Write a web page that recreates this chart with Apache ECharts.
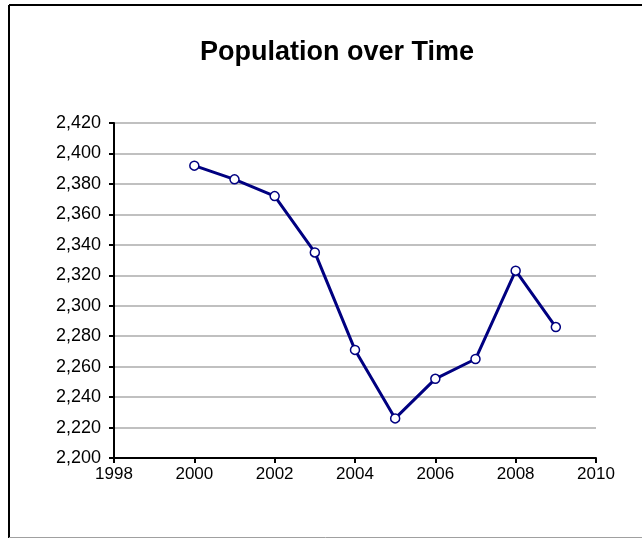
<!DOCTYPE html>
<html>
<head>
<meta charset="utf-8">
<script src="https://cdn.jsdelivr.net/npm/echarts@6/dist/echarts.min.js"></script>
<style>
html,body{margin:0;padding:0;background:#fff;}
#chart{width:642px;height:539px;}
</style>
</head>
<body>
<div id="chart"></div>
<script>
const years = [2000, 2001, 2002, 2003, 2004, 2005, 2006, 2007, 2008, 2009];
const population = [2392, 2383, 2372, 2335, 2271, 2226, 2252, 2265, 2323, 2286];
const titleText = 'Population over Time';

const chart = echarts.init(document.getElementById('chart'), null, {renderer: 'canvas'});
const fontFam = '"Liberation Sans", Arial, sans-serif';
chart.setOption({
  animation: false,
  backgroundColor: '#ffffff',
  title: {
    text: titleText,
    left: 332, top: 34, textAlign: 'center',
    textStyle: {fontFamily: fontFam, fontSize: 27, fontWeight: 'bold', color: '#000'}
  },
  grid: {left: 114, right: 46, top: 123, bottom: 81},
  xAxis: {
    type: 'value', min: 1998, max: 2010, interval: 2,
    axisLine: {show: true, lineStyle: {color: '#000', width: 2}},
    axisTick: {show: true, length: 5, lineStyle: {color: '#000', width: 2}},
    axisLabel: {margin: 8, fontFamily: fontFam, fontSize: 17, color: '#000', formatter: v => String(v)},
    splitLine: {show: false}
  },
  yAxis: {
    type: 'value', min: 2200, max: 2420, interval: 20,
    axisLine: {show: true, lineStyle: {color: '#000', width: 2}},
    axisTick: {show: true, length: 5, lineStyle: {color: '#000', width: 2}},
    axisLabel: {margin: 13, fontFamily: fontFam, fontSize: 18, color: '#000',
      formatter: v => v.toLocaleString('en-US')},
    splitLine: {show: true, lineStyle: {color: '#c0c0c0', width: 2}}
  },
  series: [{
    type: 'line',
    data: years.map((y, i) => [y, population[i]]),
    lineStyle: {color: '#000080', width: 3},
    symbol: 'circle', symbolSize: 9,
    itemStyle: {color: '#ffffff', borderColor: '#000080', borderWidth: 1.5},
    z: 5
  }],
  graphic: [
    {type: 'line', shape: {x1: 9, y1: 5, x2: 642, y2: 5}, style: {stroke: '#000', lineWidth: 2}},
    {type: 'line', shape: {x1: 9, y1: 5, x2: 9, y2: 538}, style: {stroke: '#000', lineWidth: 2}},
    {type: 'line', shape: {x1: 9, y1: 537.5, x2: 642, y2: 537.5}, style: {stroke: '#a0a0a0', lineWidth: 1}}
  ]
});
</script>
</body>
</html>
